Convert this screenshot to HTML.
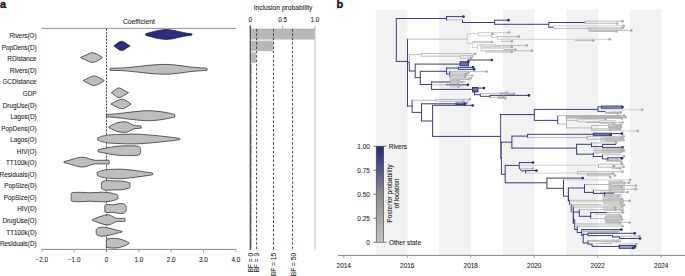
<!DOCTYPE html>
<html><head><meta charset="utf-8"><style>html,body{margin:0;padding:0;background:#fff;width:685px;height:276px;overflow:hidden}svg{display:block}text{stroke:#2a2a2a;stroke-width:0.08px;paint-order:stroke}</style></head>
<body>
<svg width="685" height="276" viewBox="0 0 685 276">
<rect width="685" height="276" fill="#fff"/>
<text x="0" y="7.7" style="font-family:'Liberation Sans',sans-serif;font-weight:bold;font-size:11px;stroke:#111;stroke-width:0.3px" fill="#111">a</text>
<text x="138.9" y="23.8" text-anchor="middle" style="font-family:'Liberation Sans',sans-serif;font-size:6.8px" fill="#222">Coefficient</text>
<line x1="41.8" y1="28.4" x2="236.1" y2="28.4" stroke="#8a8a8a" stroke-width="0.9"/>
<line x1="106.5" y1="28.8" x2="106.5" y2="252.5" stroke="#3a3a3a" stroke-width="0.9" stroke-dasharray="2.1 1.15"/>
<line x1="41.8" y1="249.4" x2="236.1" y2="249.4" stroke="#777" stroke-width="0.9"/>
<line x1="41.84" y1="249.3" x2="41.84" y2="252.3" stroke="#888" stroke-width="0.75"/>
<text x="41.84" y="261.5" text-anchor="middle" style="font-family:'Liberation Sans',sans-serif;font-size:6.35px" fill="#222">−2.0</text>
<line x1="74.17" y1="249.3" x2="74.17" y2="252.3" stroke="#888" stroke-width="0.75"/>
<text x="74.17" y="261.5" text-anchor="middle" style="font-family:'Liberation Sans',sans-serif;font-size:6.35px" fill="#222">−1.0</text>
<line x1="106.50" y1="249.3" x2="106.50" y2="252.3" stroke="#888" stroke-width="0.75"/>
<text x="106.50" y="261.5" text-anchor="middle" style="font-family:'Liberation Sans',sans-serif;font-size:6.35px" fill="#222">0</text>
<line x1="138.83" y1="249.3" x2="138.83" y2="252.3" stroke="#888" stroke-width="0.75"/>
<text x="138.83" y="261.5" text-anchor="middle" style="font-family:'Liberation Sans',sans-serif;font-size:6.35px" fill="#222">1.0</text>
<line x1="171.16" y1="249.3" x2="171.16" y2="252.3" stroke="#888" stroke-width="0.75"/>
<text x="171.16" y="261.5" text-anchor="middle" style="font-family:'Liberation Sans',sans-serif;font-size:6.35px" fill="#222">2.0</text>
<line x1="203.49" y1="249.3" x2="203.49" y2="252.3" stroke="#888" stroke-width="0.75"/>
<text x="203.49" y="261.5" text-anchor="middle" style="font-family:'Liberation Sans',sans-serif;font-size:6.35px" fill="#222">3.0</text>
<line x1="235.82" y1="249.3" x2="235.82" y2="252.3" stroke="#888" stroke-width="0.75"/>
<text x="235.82" y="261.5" text-anchor="middle" style="font-family:'Liberation Sans',sans-serif;font-size:6.35px" fill="#222">4.0</text>
<text x="36.6" y="38.20" text-anchor="end" style="font-family:'Liberation Sans',sans-serif;font-size:6.35px" fill="#222">Rivers(O)</text>
<path d="M145.80,33.60 C146.17,33.52 146.97,33.37 148.00,33.10 C149.03,32.83 150.50,32.40 152.00,32.00 C153.50,31.60 155.33,31.05 157.00,30.70 C158.67,30.35 160.50,30.08 162.00,29.90 C163.50,29.72 164.50,29.60 166.00,29.60 C167.50,29.60 169.33,29.68 171.00,29.90 C172.67,30.12 174.33,30.53 176.00,30.90 C177.67,31.27 179.33,31.73 181.00,32.10 C182.67,32.47 184.50,32.85 186.00,33.10 C187.50,33.35 189.00,33.47 190.00,33.60 C191.00,33.73 191.67,33.85 192.00,33.90 L192.00,35.10 C191.67,35.15 191.00,35.27 190.00,35.40 C189.00,35.53 187.50,35.65 186.00,35.90 C184.50,36.15 182.67,36.53 181.00,36.90 C179.33,37.27 177.67,37.73 176.00,38.10 C174.33,38.47 172.67,38.88 171.00,39.10 C169.33,39.32 167.50,39.40 166.00,39.40 C164.50,39.40 163.50,39.28 162.00,39.10 C160.50,38.92 158.67,38.65 157.00,38.30 C155.33,37.95 153.50,37.40 152.00,37.00 C150.50,36.60 149.03,36.17 148.00,35.90 C146.97,35.63 146.17,35.48 145.80,35.40 Z" fill="#2b2e7c" stroke="#1a1c4a" stroke-width="0.75"/>
<text x="36.6" y="49.75" text-anchor="end" style="font-family:'Liberation Sans',sans-serif;font-size:6.35px" fill="#222">PopDens(D)</text>
<path d="M114.10,45.60 C114.35,45.43 115.03,45.02 115.60,44.60 C116.17,44.18 116.83,43.57 117.50,43.10 C118.17,42.63 118.90,42.11 119.60,41.80 C120.30,41.49 120.97,41.22 121.70,41.25 C122.43,41.28 123.28,41.66 124.00,42.00 C124.72,42.34 125.33,42.85 126.00,43.30 C126.67,43.75 127.37,44.32 128.00,44.70 C128.63,45.08 129.50,45.45 129.80,45.60 L129.80,46.20 C129.50,46.35 128.63,46.72 128.00,47.10 C127.37,47.48 126.67,48.05 126.00,48.50 C125.33,48.95 124.72,49.46 124.00,49.80 C123.28,50.14 122.43,50.52 121.70,50.55 C120.97,50.58 120.30,50.31 119.60,50.00 C118.90,49.69 118.17,49.17 117.50,48.70 C116.83,48.23 116.17,47.62 115.60,47.20 C115.03,46.78 114.35,46.37 114.10,46.20 Z" fill="#2b2e7c" stroke="#1a1c4a" stroke-width="0.75"/>
<text x="36.6" y="61.30" text-anchor="end" style="font-family:'Liberation Sans',sans-serif;font-size:6.35px" fill="#222">RDistance</text>
<path d="M80.80,57.30 C81.17,57.15 82.13,56.78 83.00,56.40 C83.87,56.02 85.00,55.47 86.00,55.00 C87.00,54.53 88.00,53.97 89.00,53.60 C90.00,53.23 91.00,52.85 92.00,52.80 C93.00,52.75 94.00,52.98 95.00,53.30 C96.00,53.62 97.12,54.23 98.00,54.70 C98.88,55.17 99.60,55.67 100.30,56.10 C101.00,56.53 101.88,57.10 102.20,57.30 L102.20,57.90 C101.88,58.10 101.00,58.67 100.30,59.10 C99.60,59.53 98.88,60.03 98.00,60.50 C97.12,60.97 96.00,61.58 95.00,61.90 C94.00,62.22 93.00,62.45 92.00,62.40 C91.00,62.35 90.00,61.97 89.00,61.60 C88.00,61.23 87.00,60.67 86.00,60.20 C85.00,59.73 83.87,59.18 83.00,58.80 C82.13,58.42 81.17,58.05 80.80,57.90 Z" fill="#bebebe" stroke="#2e2e2e" stroke-width="0.75"/>
<text x="36.6" y="72.85" text-anchor="end" style="font-family:'Liberation Sans',sans-serif;font-size:6.35px" fill="#222">Rivers(D)</text>
<path d="M110.10,68.20 C111.42,68.18 115.52,68.17 118.00,68.10 C120.48,68.03 122.17,68.02 125.00,67.80 C127.83,67.58 131.67,67.15 135.00,66.80 C138.33,66.45 141.67,66.03 145.00,65.70 C148.33,65.37 151.83,65.02 155.00,64.80 C158.17,64.58 161.17,64.42 164.00,64.40 C166.83,64.38 169.33,64.50 172.00,64.70 C174.67,64.90 177.33,65.27 180.00,65.60 C182.67,65.93 185.33,66.38 188.00,66.70 C190.67,67.02 193.50,67.28 196.00,67.50 C198.50,67.72 201.17,67.88 203.00,68.00 C204.83,68.12 206.33,68.17 207.00,68.20 L207.00,70.40 C206.33,70.43 204.83,70.48 203.00,70.60 C201.17,70.72 198.50,70.88 196.00,71.10 C193.50,71.32 190.67,71.58 188.00,71.90 C185.33,72.22 182.67,72.67 180.00,73.00 C177.33,73.33 174.67,73.70 172.00,73.90 C169.33,74.10 166.83,74.22 164.00,74.20 C161.17,74.18 158.17,74.02 155.00,73.80 C151.83,73.58 148.33,73.23 145.00,72.90 C141.67,72.57 138.33,72.15 135.00,71.80 C131.67,71.45 127.83,71.02 125.00,70.80 C122.17,70.58 120.48,70.57 118.00,70.50 C115.52,70.43 111.42,70.42 110.10,70.40 Z" fill="#bebebe" stroke="#2e2e2e" stroke-width="0.75"/>
<text x="36.6" y="84.40" text-anchor="end" style="font-family:'Liberation Sans',sans-serif;font-size:6.35px" fill="#222">GCDistance</text>
<path d="M83.40,80.40 C83.75,80.25 84.68,79.90 85.50,79.50 C86.32,79.10 87.35,78.48 88.30,78.00 C89.25,77.52 90.22,76.95 91.20,76.60 C92.18,76.25 93.18,75.88 94.20,75.90 C95.22,75.92 96.33,76.33 97.30,76.70 C98.27,77.07 99.18,77.63 100.00,78.10 C100.82,78.57 101.52,79.12 102.20,79.50 C102.88,79.88 103.78,80.25 104.10,80.40 L104.10,81.00 C103.78,81.15 102.88,81.52 102.20,81.90 C101.52,82.28 100.82,82.83 100.00,83.30 C99.18,83.77 98.27,84.33 97.30,84.70 C96.33,85.07 95.22,85.48 94.20,85.50 C93.18,85.52 92.18,85.15 91.20,84.80 C90.22,84.45 89.25,83.88 88.30,83.40 C87.35,82.92 86.32,82.30 85.50,81.90 C84.68,81.50 83.75,81.15 83.40,81.00 Z" fill="#bebebe" stroke="#2e2e2e" stroke-width="0.75"/>
<text x="36.6" y="95.95" text-anchor="end" style="font-family:'Liberation Sans',sans-serif;font-size:6.35px" fill="#222">GDP</text>
<path d="M111.60,92.50 C111.83,92.35 112.47,91.98 113.00,91.60 C113.53,91.22 114.17,90.67 114.80,90.20 C115.43,89.73 116.12,89.18 116.80,88.80 C117.48,88.42 118.15,87.92 118.90,87.90 C119.65,87.88 120.48,88.33 121.30,88.70 C122.12,89.07 122.98,89.63 123.80,90.10 C124.62,90.57 125.45,91.10 126.20,91.50 C126.95,91.90 127.95,92.33 128.30,92.50 L128.30,93.10 C127.95,93.27 126.95,93.70 126.20,94.10 C125.45,94.50 124.62,95.03 123.80,95.50 C122.98,95.97 122.12,96.53 121.30,96.90 C120.48,97.27 119.65,97.72 118.90,97.70 C118.15,97.68 117.48,97.18 116.80,96.80 C116.12,96.42 115.43,95.87 114.80,95.40 C114.17,94.93 113.53,94.38 113.00,94.00 C112.47,93.62 111.83,93.25 111.60,93.10 Z" fill="#bebebe" stroke="#2e2e2e" stroke-width="0.75"/>
<text x="36.6" y="107.50" text-anchor="end" style="font-family:'Liberation Sans',sans-serif;font-size:6.35px" fill="#222">DrugUse(D)</text>
<path d="M111.10,103.70 C111.47,103.53 112.48,103.10 113.30,102.70 C114.12,102.30 115.05,101.77 116.00,101.30 C116.95,100.83 117.97,100.25 119.00,99.90 C120.03,99.55 121.20,99.17 122.20,99.20 C123.20,99.23 124.15,99.72 125.00,100.10 C125.85,100.48 126.58,101.05 127.30,101.50 C128.02,101.95 128.72,102.43 129.30,102.80 C129.88,103.17 130.55,103.55 130.80,103.70 L130.80,104.30 C130.55,104.45 129.88,104.83 129.30,105.20 C128.72,105.57 128.02,106.05 127.30,106.50 C126.58,106.95 125.85,107.52 125.00,107.90 C124.15,108.28 123.20,108.77 122.20,108.80 C121.20,108.83 120.03,108.45 119.00,108.10 C117.97,107.75 116.95,107.17 116.00,106.70 C115.05,106.23 114.12,105.70 113.30,105.30 C112.48,104.90 111.47,104.47 111.10,104.30 Z" fill="#bebebe" stroke="#2e2e2e" stroke-width="0.75"/>
<text x="36.6" y="119.05" text-anchor="end" style="font-family:'Liberation Sans',sans-serif;font-size:6.35px" fill="#222">Lagos(D)</text>
<path d="M106.30,114.50 C107.25,114.45 109.72,114.38 112.00,114.20 C114.28,114.02 117.00,113.73 120.00,113.40 C123.00,113.07 126.67,112.58 130.00,112.20 C133.33,111.82 137.00,111.35 140.00,111.10 C143.00,110.85 145.33,110.70 148.00,110.70 C150.67,110.70 153.33,110.85 156.00,111.10 C158.67,111.35 161.67,111.83 164.00,112.20 C166.33,112.57 168.22,112.93 170.00,113.30 C171.78,113.67 173.92,114.22 174.70,114.40 L174.70,117.00 C173.92,117.18 171.78,117.73 170.00,118.10 C168.22,118.47 166.33,118.83 164.00,119.20 C161.67,119.57 158.67,120.05 156.00,120.30 C153.33,120.55 150.67,120.70 148.00,120.70 C145.33,120.70 143.00,120.55 140.00,120.30 C137.00,120.05 133.33,119.58 130.00,119.20 C126.67,118.82 123.00,118.33 120.00,118.00 C117.00,117.67 114.28,117.38 112.00,117.20 C109.72,117.02 107.25,116.95 106.30,116.90 Z" fill="#bebebe" stroke="#2e2e2e" stroke-width="0.75"/>
<text x="36.6" y="130.60" text-anchor="end" style="font-family:'Liberation Sans',sans-serif;font-size:6.35px" fill="#222">PopDens(O)</text>
<path d="M108.80,126.70 C109.50,126.35 111.47,125.30 113.00,124.60 C114.53,123.90 116.05,122.97 118.00,122.50 C119.95,122.03 122.87,121.73 124.70,121.80 C126.53,121.87 127.78,122.43 129.00,122.90 C130.22,123.37 131.08,124.17 132.00,124.60 C132.92,125.03 133.50,125.30 134.50,125.50 C135.50,125.70 136.90,125.73 138.00,125.80 C139.10,125.87 140.58,125.88 141.10,125.90 L141.10,128.30 C140.58,128.32 139.10,128.33 138.00,128.40 C136.90,128.47 135.50,128.50 134.50,128.70 C133.50,128.90 132.92,129.17 132.00,129.60 C131.08,130.03 130.22,130.83 129.00,131.30 C127.78,131.77 126.53,132.33 124.70,132.40 C122.87,132.47 119.95,132.17 118.00,131.70 C116.05,131.23 114.53,130.30 113.00,129.60 C111.47,128.90 109.50,127.85 108.80,127.50 Z" fill="#bebebe" stroke="#2e2e2e" stroke-width="0.75"/>
<text x="36.6" y="142.15" text-anchor="end" style="font-family:'Liberation Sans',sans-serif;font-size:6.35px" fill="#222">Lagos(O)</text>
<path d="M97.80,137.70 C98.08,137.62 98.88,137.42 99.50,137.20 C100.12,136.98 100.67,136.65 101.50,136.40 C102.33,136.15 103.08,135.95 104.50,135.70 C105.92,135.45 107.42,135.12 110.00,134.90 C112.58,134.68 116.33,134.53 120.00,134.40 C123.67,134.27 128.33,134.10 132.00,134.10 C135.67,134.10 138.67,134.22 142.00,134.40 C145.33,134.58 148.67,134.90 152.00,135.20 C155.33,135.50 159.00,135.88 162.00,136.20 C165.00,136.52 167.67,136.83 170.00,137.10 C172.33,137.37 174.37,137.60 176.00,137.80 C177.63,138.00 179.17,138.22 179.80,138.30 L179.80,139.70 C179.17,139.78 177.63,140.00 176.00,140.20 C174.37,140.40 172.33,140.63 170.00,140.90 C167.67,141.17 165.00,141.48 162.00,141.80 C159.00,142.12 155.33,142.50 152.00,142.80 C148.67,143.10 145.33,143.42 142.00,143.60 C138.67,143.78 135.67,143.90 132.00,143.90 C128.33,143.90 123.67,143.73 120.00,143.60 C116.33,143.47 112.58,143.32 110.00,143.10 C107.42,142.88 105.92,142.55 104.50,142.30 C103.08,142.05 102.33,141.85 101.50,141.60 C100.67,141.35 100.12,141.02 99.50,140.80 C98.88,140.58 98.08,140.38 97.80,140.30 Z" fill="#bebebe" stroke="#2e2e2e" stroke-width="0.75"/>
<text x="36.6" y="153.70" text-anchor="end" style="font-family:'Liberation Sans',sans-serif;font-size:6.35px" fill="#222">HIV(O)</text>
<path d="M98.20,149.60 C98.50,149.53 99.03,149.38 100.00,149.20 C100.97,149.02 102.67,148.75 104.00,148.50 C105.33,148.25 106.50,147.98 108.00,147.70 C109.50,147.42 111.17,147.07 113.00,146.80 C114.83,146.53 116.83,146.27 119.00,146.10 C121.17,145.93 123.67,145.85 126.00,145.80 C128.33,145.75 131.17,145.75 133.00,145.80 C134.83,145.85 135.92,145.92 137.00,146.10 C138.08,146.28 138.92,146.50 139.50,146.90 C140.08,147.30 140.30,147.87 140.50,148.50 C140.70,149.13 140.67,150.33 140.70,150.70 L140.70,150.70 C140.67,151.07 140.70,152.27 140.50,152.90 C140.30,153.53 140.08,154.10 139.50,154.50 C138.92,154.90 138.08,155.12 137.00,155.30 C135.92,155.48 134.83,155.55 133.00,155.60 C131.17,155.65 128.33,155.65 126.00,155.60 C123.67,155.55 121.17,155.47 119.00,155.30 C116.83,155.13 114.83,154.87 113.00,154.60 C111.17,154.33 109.50,153.98 108.00,153.70 C106.50,153.42 105.33,153.15 104.00,152.90 C102.67,152.65 100.97,152.38 100.00,152.20 C99.03,152.02 98.50,151.87 98.20,151.80 Z" fill="#bebebe" stroke="#2e2e2e" stroke-width="0.75"/>
<text x="36.6" y="165.25" text-anchor="end" style="font-family:'Liberation Sans',sans-serif;font-size:6.35px" fill="#222">TT100k(O)</text>
<path d="M64.10,161.40 C64.75,161.27 66.52,160.98 68.00,160.60 C69.48,160.22 71.33,159.58 73.00,159.10 C74.67,158.62 76.50,158.02 78.00,157.70 C79.50,157.38 80.67,157.20 82.00,157.20 C83.33,157.20 84.67,157.38 86.00,157.70 C87.33,158.02 88.67,158.70 90.00,159.10 C91.33,159.50 92.83,159.90 94.00,160.10 C95.17,160.30 95.33,160.27 97.00,160.30 C98.67,160.33 102.02,160.30 104.00,160.30 C105.98,160.30 108.07,160.00 108.90,160.30 C109.73,160.60 108.98,161.80 109.00,162.10 L109.00,162.10 C108.98,162.40 109.73,163.60 108.90,163.90 C108.07,164.20 105.98,163.90 104.00,163.90 C102.02,163.90 98.67,163.87 97.00,163.90 C95.33,163.93 95.17,163.90 94.00,164.10 C92.83,164.30 91.33,164.70 90.00,165.10 C88.67,165.50 87.33,166.18 86.00,166.50 C84.67,166.82 83.33,167.00 82.00,167.00 C80.67,167.00 79.50,166.82 78.00,166.50 C76.50,166.18 74.67,165.58 73.00,165.10 C71.33,164.62 69.48,163.98 68.00,163.60 C66.52,163.22 64.75,162.93 64.10,162.80 Z" fill="#bebebe" stroke="#2e2e2e" stroke-width="0.75"/>
<text x="36.6" y="176.80" text-anchor="end" style="font-family:'Liberation Sans',sans-serif;font-size:6.35px" fill="#222">Residuals(O)</text>
<path d="M97.20,172.70 C97.42,172.57 97.95,172.18 98.50,171.90 C99.05,171.62 99.75,171.27 100.50,171.00 C101.25,170.73 101.92,170.52 103.00,170.30 C104.08,170.08 105.00,169.88 107.00,169.70 C109.00,169.52 112.50,169.28 115.00,169.20 C117.50,169.12 119.50,169.08 122.00,169.20 C124.50,169.32 127.33,169.62 130.00,169.90 C132.67,170.18 135.50,170.57 138.00,170.90 C140.50,171.23 143.00,171.62 145.00,171.90 C147.00,172.18 148.72,172.40 150.00,172.60 C151.28,172.80 152.25,173.02 152.70,173.10 L152.70,174.70 C152.25,174.78 151.28,175.00 150.00,175.20 C148.72,175.40 147.00,175.62 145.00,175.90 C143.00,176.18 140.50,176.57 138.00,176.90 C135.50,177.23 132.67,177.62 130.00,177.90 C127.33,178.18 124.50,178.48 122.00,178.60 C119.50,178.72 117.50,178.68 115.00,178.60 C112.50,178.52 109.00,178.28 107.00,178.10 C105.00,177.92 104.08,177.72 103.00,177.50 C101.92,177.28 101.25,177.07 100.50,176.80 C99.75,176.53 99.05,176.18 98.50,175.90 C97.95,175.62 97.42,175.23 97.20,175.10 Z" fill="#bebebe" stroke="#2e2e2e" stroke-width="0.75"/>
<text x="36.6" y="188.35" text-anchor="end" style="font-family:'Liberation Sans',sans-serif;font-size:6.35px" fill="#222">PopSize(D)</text>
<path d="M101.60,185.40 C101.60,184.93 101.37,183.27 101.60,182.60 C101.83,181.93 102.27,181.73 103.00,181.40 C103.73,181.07 104.50,180.70 106.00,180.60 C107.50,180.50 110.00,180.75 112.00,180.80 C114.00,180.85 116.17,180.83 118.00,180.90 C119.83,180.97 121.50,181.00 123.00,181.20 C124.50,181.40 125.85,181.78 127.00,182.10 C128.15,182.42 129.42,182.55 129.90,183.10 C130.38,183.65 129.90,185.02 129.90,185.40 L129.90,185.40 C129.90,185.78 130.38,187.15 129.90,187.70 C129.42,188.25 128.15,188.38 127.00,188.70 C125.85,189.02 124.50,189.40 123.00,189.60 C121.50,189.80 119.83,189.83 118.00,189.90 C116.17,189.97 114.00,189.95 112.00,190.00 C110.00,190.05 107.50,190.30 106.00,190.20 C104.50,190.10 103.73,189.73 103.00,189.40 C102.27,189.07 101.83,188.87 101.60,188.20 C101.37,187.53 101.60,185.87 101.60,185.40 Z" fill="#bebebe" stroke="#2e2e2e" stroke-width="0.75"/>
<text x="36.6" y="199.90" text-anchor="end" style="font-family:'Liberation Sans',sans-serif;font-size:6.35px" fill="#222">PopSize(O)</text>
<path d="M71.30,197.00 C71.30,196.42 71.02,194.23 71.30,193.50 C71.58,192.77 71.88,192.80 73.00,192.60 C74.12,192.40 76.17,192.32 78.00,192.30 C79.83,192.28 82.00,192.42 84.00,192.50 C86.00,192.58 88.00,192.80 90.00,192.80 C92.00,192.80 94.00,192.60 96.00,192.50 C98.00,192.40 100.00,192.18 102.00,192.20 C104.00,192.22 106.17,192.38 108.00,192.60 C109.83,192.82 111.40,193.10 113.00,193.50 C114.60,193.90 116.83,194.42 117.60,195.00 C118.37,195.58 117.60,196.67 117.60,197.00 L117.60,197.00 C117.60,197.33 118.37,198.42 117.60,199.00 C116.83,199.58 114.60,200.10 113.00,200.50 C111.40,200.90 109.83,201.18 108.00,201.40 C106.17,201.62 104.00,201.78 102.00,201.80 C100.00,201.82 98.00,201.60 96.00,201.50 C94.00,201.40 92.00,201.20 90.00,201.20 C88.00,201.20 86.00,201.42 84.00,201.50 C82.00,201.58 79.83,201.72 78.00,201.70 C76.17,201.68 74.12,201.60 73.00,201.40 C71.88,201.20 71.58,201.23 71.30,200.50 C71.02,199.77 71.30,197.58 71.30,197.00 Z" fill="#bebebe" stroke="#2e2e2e" stroke-width="0.75"/>
<text x="36.6" y="211.45" text-anchor="end" style="font-family:'Liberation Sans',sans-serif;font-size:6.35px" fill="#222">HIV(D)</text>
<path d="M104.90,208.60 C104.90,208.10 104.72,206.23 104.90,205.60 C105.08,204.97 105.32,204.97 106.00,204.80 C106.68,204.63 107.83,204.58 109.00,204.60 C110.17,204.62 111.67,204.98 113.00,204.90 C114.33,204.82 115.78,204.32 117.00,204.10 C118.22,203.88 119.22,203.62 120.30,203.60 C121.38,203.58 122.58,203.67 123.50,204.00 C124.42,204.33 125.33,204.83 125.80,205.60 C126.27,206.37 126.22,208.10 126.30,208.60 L126.30,208.60 C126.22,209.10 126.27,210.83 125.80,211.60 C125.33,212.37 124.42,212.87 123.50,213.20 C122.58,213.53 121.38,213.62 120.30,213.60 C119.22,213.58 118.22,213.32 117.00,213.10 C115.78,212.88 114.33,212.38 113.00,212.30 C111.67,212.22 110.17,212.58 109.00,212.60 C107.83,212.62 106.68,212.57 106.00,212.40 C105.32,212.23 105.08,212.23 104.90,211.60 C104.72,210.97 104.90,209.10 104.90,208.60 Z" fill="#bebebe" stroke="#2e2e2e" stroke-width="0.75"/>
<text x="36.6" y="223.00" text-anchor="end" style="font-family:'Liberation Sans',sans-serif;font-size:6.35px" fill="#222">DrugUse(O)</text>
<path d="M92.20,219.50 C92.83,219.27 94.70,218.58 96.00,218.10 C97.30,217.62 98.67,217.05 100.00,216.60 C101.33,216.15 102.57,215.68 104.00,215.40 C105.43,215.12 107.27,214.78 108.60,214.90 C109.93,215.02 111.02,215.67 112.00,216.10 C112.98,216.53 113.75,217.15 114.50,217.50 C115.25,217.85 115.83,218.05 116.50,218.20 C117.17,218.35 117.67,218.37 118.50,218.40 C119.33,218.43 120.43,218.40 121.50,218.40 C122.57,218.40 124.33,218.15 124.90,218.40 C125.48,218.65 124.94,219.65 124.95,219.90 L124.95,219.90 C124.94,220.15 125.48,221.15 124.90,221.40 C124.33,221.65 122.57,221.40 121.50,221.40 C120.43,221.40 119.33,221.37 118.50,221.40 C117.67,221.43 117.17,221.45 116.50,221.60 C115.83,221.75 115.25,221.95 114.50,222.30 C113.75,222.65 112.98,223.27 112.00,223.70 C111.02,224.13 109.93,224.78 108.60,224.90 C107.27,225.02 105.43,224.68 104.00,224.40 C102.57,224.12 101.33,223.65 100.00,223.20 C98.67,222.75 97.30,222.18 96.00,221.70 C94.70,221.22 92.83,220.53 92.20,220.30 Z" fill="#bebebe" stroke="#2e2e2e" stroke-width="0.75"/>
<text x="36.6" y="234.55" text-anchor="end" style="font-family:'Liberation Sans',sans-serif;font-size:6.35px" fill="#222">TT100k(D)</text>
<path d="M96.20,231.70 C96.22,231.37 96.08,230.28 96.30,229.70 C96.52,229.12 96.88,228.58 97.50,228.20 C98.12,227.82 99.08,227.57 100.00,227.40 C100.92,227.23 101.83,227.15 103.00,227.20 C104.17,227.25 105.50,227.42 107.00,227.70 C108.50,227.98 110.33,228.48 112.00,228.90 C113.67,229.32 115.32,229.78 117.00,230.20 C118.68,230.62 121.25,231.20 122.10,231.40 L122.10,232.00 C121.25,232.20 118.68,232.78 117.00,233.20 C115.32,233.62 113.67,234.08 112.00,234.50 C110.33,234.92 108.50,235.42 107.00,235.70 C105.50,235.98 104.17,236.15 103.00,236.20 C101.83,236.25 100.92,236.17 100.00,236.00 C99.08,235.83 98.12,235.58 97.50,235.20 C96.88,234.82 96.52,234.28 96.30,233.70 C96.08,233.12 96.22,232.03 96.20,231.70 Z" fill="#bebebe" stroke="#2e2e2e" stroke-width="0.75"/>
<text x="36.6" y="246.10" text-anchor="end" style="font-family:'Liberation Sans',sans-serif;font-size:6.35px" fill="#222">Residuals(D)</text>
<path d="M106.40,243.20 C106.40,242.62 106.13,240.42 106.40,239.70 C106.67,238.98 107.07,239.12 108.00,238.90 C108.93,238.68 110.50,238.47 112.00,238.40 C113.50,238.33 115.50,238.35 117.00,238.50 C118.50,238.65 119.67,238.92 121.00,239.30 C122.33,239.68 123.67,240.22 125.00,240.80 C126.33,241.38 128.33,242.47 129.00,242.80 L129.00,243.60 C128.33,243.93 126.33,245.02 125.00,245.60 C123.67,246.18 122.33,246.72 121.00,247.10 C119.67,247.48 118.50,247.75 117.00,247.90 C115.50,248.05 113.50,248.07 112.00,248.00 C110.50,247.93 108.93,247.72 108.00,247.50 C107.07,247.28 106.67,247.42 106.40,246.70 C106.13,245.98 106.40,243.78 106.40,243.20 Z" fill="#bebebe" stroke="#2e2e2e" stroke-width="0.75"/>
<text x="283" y="9.7" text-anchor="middle" style="font-family:'Liberation Sans',sans-serif;font-size:6.7px" fill="#222">Inclusion probability</text>
<text x="250.30" y="21.8" text-anchor="middle" style="font-family:'Liberation Sans',sans-serif;font-size:6.35px" fill="#222">0</text>
<line x1="250.30" y1="25.8" x2="250.30" y2="29" stroke="#888" stroke-width="0.7"/>
<text x="282.65" y="21.8" text-anchor="middle" style="font-family:'Liberation Sans',sans-serif;font-size:6.35px" fill="#222">0.5</text>
<line x1="282.65" y1="25.8" x2="282.65" y2="29" stroke="#888" stroke-width="0.7"/>
<text x="315.00" y="21.8" text-anchor="middle" style="font-family:'Liberation Sans',sans-serif;font-size:6.35px" fill="#222">1.0</text>
<line x1="315.00" y1="25.8" x2="315.00" y2="29" stroke="#888" stroke-width="0.7"/>
<rect x="250.30" y="29.05" width="64.70" height="10.5" fill="#b8b8b8"/>
<rect x="250.30" y="40.65" width="22.71" height="10.5" fill="#b8b8b8"/>
<rect x="250.30" y="52.25" width="5.63" height="10.5" fill="#b8b8b8"/>
<rect x="250.30" y="63.85" width="1.62" height="10.5" fill="#b8b8b8"/>
<rect x="250.30" y="75.45" width="1.62" height="10.5" fill="#b8b8b8"/>
<rect x="250.30" y="87.05" width="1.62" height="10.5" fill="#b8b8b8"/>
<rect x="250.30" y="98.65" width="1.62" height="10.5" fill="#b8b8b8"/>
<rect x="250.30" y="110.25" width="1.62" height="10.5" fill="#b8b8b8"/>
<rect x="250.30" y="121.85" width="1.62" height="10.5" fill="#b8b8b8"/>
<rect x="250.30" y="133.45" width="1.62" height="10.5" fill="#b8b8b8"/>
<rect x="250.30" y="145.05" width="1.62" height="10.5" fill="#b8b8b8"/>
<rect x="250.30" y="156.65" width="1.62" height="10.5" fill="#b8b8b8"/>
<rect x="250.30" y="168.25" width="1.62" height="10.5" fill="#b8b8b8"/>
<rect x="250.30" y="179.85" width="1.62" height="10.5" fill="#b8b8b8"/>
<rect x="250.30" y="191.45" width="1.62" height="10.5" fill="#b8b8b8"/>
<rect x="250.30" y="203.05" width="1.62" height="10.5" fill="#b8b8b8"/>
<rect x="250.30" y="214.65" width="1.62" height="10.5" fill="#b8b8b8"/>
<rect x="250.30" y="226.25" width="1.62" height="10.5" fill="#b8b8b8"/>
<rect x="250.30" y="237.85" width="1.62" height="10.5" fill="#b8b8b8"/>
<line x1="250.3" y1="29" x2="315.0" y2="29" stroke="#aaa" stroke-width="0.7"/>
<line x1="315.0" y1="28.8" x2="315.0" y2="249.5" stroke="#c4c4c4" stroke-width="1"/>
<line x1="250.3" y1="25.4" x2="250.3" y2="250" stroke="#555" stroke-width="1.35"/>
<line x1="256.6" y1="29" x2="256.6" y2="249.5" stroke="#222" stroke-width="0.8" stroke-dasharray="2.6 1.75"/>
<line x1="273.5" y1="29" x2="273.5" y2="249.5" stroke="#222" stroke-width="0.8" stroke-dasharray="2.6 1.75"/>
<line x1="292.6" y1="29" x2="292.6" y2="249.5" stroke="#222" stroke-width="0.8" stroke-dasharray="2.6 1.75"/>
<text transform="translate(252.80,252.7) rotate(-90)" text-anchor="end" style="font-family:'Liberation Sans',sans-serif;font-size:6.7px" fill="#222">BF = 0</text>
<text transform="translate(259.10,252.7) rotate(-90)" text-anchor="end" style="font-family:'Liberation Sans',sans-serif;font-size:6.7px" fill="#222">BF = 3</text>
<text transform="translate(276.10,252.7) rotate(-90)" text-anchor="end" style="font-family:'Liberation Sans',sans-serif;font-size:6.7px" fill="#222">BF = 15</text>
<text transform="translate(295.60,252.7) rotate(-90)" text-anchor="end" style="font-family:'Liberation Sans',sans-serif;font-size:6.7px" fill="#222">BF = 50</text>
<rect x="375.80" y="9.4" width="31.65" height="246.0" fill="#f2f2f2"/>
<rect x="439.30" y="9.4" width="31.65" height="246.0" fill="#f2f2f2"/>
<rect x="502.80" y="9.4" width="31.65" height="246.0" fill="#f2f2f2"/>
<rect x="566.30" y="9.4" width="31.65" height="246.0" fill="#f2f2f2"/>
<rect x="629.80" y="9.4" width="31.65" height="246.0" fill="#f2f2f2"/>
<line x1="338.1" y1="255.4" x2="685" y2="255.4" stroke="#777" stroke-width="0.9"/>
<line x1="343.70" y1="255.4" x2="343.70" y2="257.8" stroke="#777" stroke-width="0.7"/>
<text x="343.70" y="267.5" text-anchor="middle" style="font-family:'Liberation Sans',sans-serif;font-size:6.4px" fill="#222">2014</text>
<line x1="407.20" y1="255.4" x2="407.20" y2="257.8" stroke="#777" stroke-width="0.7"/>
<text x="407.20" y="267.5" text-anchor="middle" style="font-family:'Liberation Sans',sans-serif;font-size:6.4px" fill="#222">2016</text>
<line x1="470.70" y1="255.4" x2="470.70" y2="257.8" stroke="#777" stroke-width="0.7"/>
<text x="470.70" y="267.5" text-anchor="middle" style="font-family:'Liberation Sans',sans-serif;font-size:6.4px" fill="#222">2018</text>
<line x1="534.20" y1="255.4" x2="534.20" y2="257.8" stroke="#777" stroke-width="0.7"/>
<text x="534.20" y="267.5" text-anchor="middle" style="font-family:'Liberation Sans',sans-serif;font-size:6.4px" fill="#222">2020</text>
<line x1="597.70" y1="255.4" x2="597.70" y2="257.8" stroke="#777" stroke-width="0.7"/>
<text x="597.70" y="267.5" text-anchor="middle" style="font-family:'Liberation Sans',sans-serif;font-size:6.4px" fill="#222">2022</text>
<line x1="661.20" y1="255.4" x2="661.20" y2="257.8" stroke="#777" stroke-width="0.7"/>
<text x="661.20" y="267.5" text-anchor="middle" style="font-family:'Liberation Sans',sans-serif;font-size:6.4px" fill="#222">2024</text>
<text x="336.4" y="8.1" style="font-family:'Liberation Sans',sans-serif;font-weight:bold;font-size:11px;stroke:#111;stroke-width:0.3px" fill="#111">b</text>
<defs><linearGradient id="lg" x1="0" y1="0" x2="0" y2="1"><stop offset="0" stop-color="#262a78"/><stop offset="0.25" stop-color="#55578a"/><stop offset="0.5" stop-color="#8c8c8c"/><stop offset="1" stop-color="#c4c4c4"/></linearGradient></defs>
<rect x="376.2" y="146.2" width="7.5" height="96" fill="url(#lg)" stroke="#444" stroke-width="0.6"/>
<line x1="373.4" y1="146.2" x2="376.2" y2="146.2" stroke="#444" stroke-width="0.7"/>
<text x="369.8" y="148.60" text-anchor="end" style="font-family:'Liberation Sans',sans-serif;font-size:6.4px" fill="#222">1.00</text>
<line x1="373.4" y1="170.2" x2="376.2" y2="170.2" stroke="#444" stroke-width="0.7"/>
<text x="369.8" y="172.60" text-anchor="end" style="font-family:'Liberation Sans',sans-serif;font-size:6.4px" fill="#222">0.75</text>
<line x1="373.4" y1="194.2" x2="376.2" y2="194.2" stroke="#444" stroke-width="0.7"/>
<text x="369.8" y="196.60" text-anchor="end" style="font-family:'Liberation Sans',sans-serif;font-size:6.4px" fill="#222">0.50</text>
<line x1="373.4" y1="218.2" x2="376.2" y2="218.2" stroke="#444" stroke-width="0.7"/>
<text x="369.8" y="220.60" text-anchor="end" style="font-family:'Liberation Sans',sans-serif;font-size:6.4px" fill="#222">0.25</text>
<line x1="373.4" y1="242.2" x2="376.2" y2="242.2" stroke="#444" stroke-width="0.7"/>
<text x="369.8" y="244.60" text-anchor="end" style="font-family:'Liberation Sans',sans-serif;font-size:6.4px" fill="#222">0</text>
<line x1="383.7" y1="146.2" x2="386.7" y2="146.2" stroke="#444" stroke-width="0.7"/>
<line x1="383.7" y1="242.2" x2="386.7" y2="242.2" stroke="#444" stroke-width="0.7"/>
<text x="388.7" y="148.6" style="font-family:'Liberation Sans',sans-serif;font-size:6.5px" fill="#222">Rivers</text>
<text x="388.9" y="244.6" style="font-family:'Liberation Sans',sans-serif;font-size:6.5px" fill="#222">Other state</text>
<text transform="translate(391.6,193.5) rotate(-90)" text-anchor="middle" style="font-family:'Liberation Sans',sans-serif;font-size:6.6px" fill="#222">Posterior probability</text>
<text transform="translate(399.2,193.5) rotate(-90)" text-anchor="middle" style="font-family:'Liberation Sans',sans-serif;font-size:6.6px" fill="#222">of location</text>
<rect x="600.0" y="239.5" width="21.0" height="3.0" fill="#d8d8d8"/>
<rect x="583.0" y="230.2" width="37.0" height="2.200000000000017" fill="#d8d8d8"/>
<rect x="605.0" y="214.5" width="17.0" height="10.5" fill="#d8d8d8"/>
<rect x="603.0" y="199.0" width="21.0" height="12.0" fill="#d8d8d8"/>
<rect x="602.0" y="194.0" width="20.0" height="5.0" fill="#d8d8d8"/>
<rect x="608.0" y="180.5" width="17.0" height="12.5" fill="#d8d8d8"/>
<rect x="606.0" y="158.5" width="16.0" height="3.5" fill="#d8d8d8"/>
<rect x="602.0" y="148.0" width="22.0" height="4.5" fill="#d8d8d8"/>
<rect x="600.0" y="137.0" width="22.0" height="5.0" fill="#d8d8d8"/>
<rect x="608.5" y="124.5" width="11.5" height="6.0" fill="#d8d8d8"/>
<rect x="566.0" y="115.0" width="56.0" height="3.5999999999999943" fill="#d8d8d8"/>
<rect x="608.0" y="111.5" width="12.0" height="2.5" fill="#d8d8d8"/>
<line x1="396.3" y1="18.05" x2="396.3" y2="61.85" stroke="#2f3382" stroke-width="0.95"/>
<line x1="396.3" y1="18.5" x2="446.6" y2="18.5" stroke="#2f3382" stroke-width="0.95"/>
<line x1="446.6" y1="16.150000000000002" x2="446.6" y2="20.65" stroke="#2f3382" stroke-width="0.95"/>
<line x1="446.6" y1="16.6" x2="463.5" y2="16.6" stroke="#2f3382" stroke-width="0.95"/>
<circle cx="463.5" cy="16.6" r="1.35" fill="#262a78"/>
<line x1="446.6" y1="19.9" x2="462.5" y2="19.9" stroke="#adadad" stroke-width="0.75"/>
<line x1="462.5" y1="19.75" x2="462.5" y2="22.95" stroke="#2f3382" stroke-width="0.95"/>
<line x1="462.5" y1="22.5" x2="494.7" y2="22.5" stroke="#2f3382" stroke-width="0.95"/>
<line x1="494.7" y1="19.75" x2="494.7" y2="24.75" stroke="#2f3382" stroke-width="0.95"/>
<line x1="494.7" y1="20.2" x2="508.5" y2="20.2" stroke="#2f3382" stroke-width="0.95"/>
<circle cx="508.5" cy="20.2" r="1.35" fill="#262a78"/>
<line x1="494.7" y1="24.3" x2="548.8" y2="24.3" stroke="#2f3382" stroke-width="0.95"/>
<line x1="548.8" y1="22.05" x2="548.8" y2="27.65" stroke="#2f3382" stroke-width="0.95"/>
<line x1="548.8" y1="22.5" x2="585.0" y2="22.5" stroke="#2f3382" stroke-width="0.95"/>
<line x1="585.0" y1="20.75" x2="585.0" y2="23.75" stroke="#adadad" stroke-width="0.85"/>
<line x1="585.0" y1="21.2" x2="622.5" y2="21.2" stroke="#adadad" stroke-width="0.85"/>
<circle cx="622.5" cy="21.2" r="1.35" fill="#acacac"/>
<line x1="585.0" y1="23.3" x2="617.0" y2="23.3" stroke="#adadad" stroke-width="0.85"/>
<circle cx="617.0" cy="23.5" r="1.35" fill="#acacac"/>
<line x1="548.8" y1="27.2" x2="553.6" y2="27.2" stroke="#2f3382" stroke-width="0.95"/>
<line x1="553.6" y1="25.35" x2="553.6" y2="28.849999999999998" stroke="#adadad" stroke-width="0.85"/>
<line x1="553.6" y1="25.8" x2="623.7" y2="25.8" stroke="#c6c6c6" stroke-width="0.85"/>
<circle cx="623.7" cy="25.8" r="1.35" fill="#acacac"/>
<line x1="553.6" y1="28.4" x2="589.0" y2="28.4" stroke="#adadad" stroke-width="0.85"/>
<line x1="589.0" y1="27.45" x2="589.0" y2="31.95" stroke="#adadad" stroke-width="0.85"/>
<line x1="589.0" y1="27.9" x2="622.7" y2="27.9" stroke="#adadad" stroke-width="0.85"/>
<circle cx="622.7" cy="27.9" r="1.35" fill="#acacac"/>
<line x1="589.0" y1="29.0" x2="622.0" y2="29.0" stroke="#adadad" stroke-width="0.85"/>
<line x1="589.0" y1="30.4" x2="631.4" y2="30.4" stroke="#adadad" stroke-width="0.85"/>
<circle cx="631.4" cy="30.4" r="1.35" fill="#acacac"/>
<line x1="590.5" y1="31.5" x2="616.4" y2="31.5" stroke="#adadad" stroke-width="0.85"/>
<circle cx="616.4" cy="31.5" r="1.35" fill="#acacac"/>
<line x1="396.3" y1="61.4" x2="407.5" y2="61.4" stroke="#2f3382" stroke-width="0.95"/>
<line x1="407.5" y1="38.65" x2="407.5" y2="106.75" stroke="#2f3382" stroke-width="0.95"/>
<line x1="407.5" y1="39.1" x2="467.2" y2="39.1" stroke="#adadad" stroke-width="0.8"/>
<line x1="467.2" y1="33.25" x2="467.2" y2="43.85" stroke="#c6c6c6" stroke-width="0.85"/>
<line x1="467.2" y1="33.7" x2="478.4" y2="33.7" stroke="#c6c6c6" stroke-width="0.85"/>
<line x1="478.4" y1="32.15" x2="478.4" y2="36.150000000000006" stroke="#c6c6c6" stroke-width="0.85"/>
<line x1="478.4" y1="32.6" x2="508.8" y2="32.6" stroke="#c6c6c6" stroke-width="0.85"/>
<circle cx="508.8" cy="32.6" r="1.35" fill="#acacac"/>
<line x1="478.4" y1="35.7" x2="491.7" y2="35.7" stroke="#c6c6c6" stroke-width="0.85"/>
<line x1="491.7" y1="33.25" x2="491.7" y2="37.85" stroke="#adadad" stroke-width="0.85"/>
<circle cx="492.5" cy="33.9" r="1.35" fill="#acacac"/>
<line x1="491.7" y1="37.4" x2="497.3" y2="37.4" stroke="#c6c6c6" stroke-width="0.85"/>
<line x1="497.3" y1="36.25" x2="497.3" y2="39.75" stroke="#c6c6c6" stroke-width="0.85"/>
<line x1="497.3" y1="36.7" x2="518.8" y2="36.7" stroke="#adadad" stroke-width="0.85"/>
<circle cx="518.8" cy="36.7" r="1.35" fill="#acacac"/>
<line x1="497.3" y1="39.3" x2="609.7" y2="39.3" stroke="#c6c6c6" stroke-width="0.85"/>
<circle cx="609.7" cy="39.3" r="1.35" fill="#acacac"/>
<line x1="575.0" y1="40.3" x2="593.3" y2="40.3" stroke="#adadad" stroke-width="0.85"/>
<circle cx="593.3" cy="40.6" r="1.35" fill="#acacac"/>
<line x1="501.4" y1="38.849999999999994" x2="501.4" y2="41.75" stroke="#c6c6c6" stroke-width="0.85"/>
<line x1="501.4" y1="41.3" x2="511.9" y2="41.3" stroke="#adadad" stroke-width="0.85"/>
<circle cx="511.9" cy="41.3" r="1.35" fill="#acacac"/>
<line x1="467.2" y1="43.4" x2="472.3" y2="43.4" stroke="#c6c6c6" stroke-width="0.85"/>
<line x1="472.3" y1="41.349999999999994" x2="472.3" y2="47.95" stroke="#c6c6c6" stroke-width="0.85"/>
<line x1="472.3" y1="41.8" x2="491.7" y2="41.8" stroke="#adadad" stroke-width="0.85"/>
<line x1="472.3" y1="42.4" x2="495.3" y2="42.4" stroke="#c6c6c6" stroke-width="0.85"/>
<circle cx="491.7" cy="42.0" r="1.35" fill="#acacac"/>
<line x1="472.3" y1="47.5" x2="477.4" y2="47.5" stroke="#c6c6c6" stroke-width="0.85"/>
<line x1="477.4" y1="44.449999999999996" x2="477.4" y2="49.95" stroke="#c6c6c6" stroke-width="0.85"/>
<line x1="477.4" y1="44.9" x2="481.0" y2="44.9" stroke="#c6c6c6" stroke-width="0.85"/>
<line x1="481.0" y1="43.949999999999996" x2="481.0" y2="46.35" stroke="#c6c6c6" stroke-width="0.85"/>
<line x1="481.0" y1="44.4" x2="495.3" y2="44.4" stroke="#c6c6c6" stroke-width="0.85"/>
<line x1="495.3" y1="43.949999999999996" x2="495.3" y2="46.45" stroke="#c6c6c6" stroke-width="0.85"/>
<line x1="495.3" y1="45.4" x2="526.8" y2="45.4" stroke="#adadad" stroke-width="0.85"/>
<line x1="481.0" y1="45.9" x2="500.0" y2="45.9" stroke="#c6c6c6" stroke-width="0.85"/>
<circle cx="526.8" cy="45.4" r="1.35" fill="#acacac"/>
<line x1="481.0" y1="43.949999999999996" x2="481.0" y2="51.25" stroke="#c6c6c6" stroke-width="0.85"/>
<line x1="481.0" y1="47.0" x2="511.8" y2="47.0" stroke="#adadad" stroke-width="0.85"/>
<circle cx="511.8" cy="47.0" r="1.35" fill="#acacac"/>
<line x1="481.0" y1="48.2" x2="504.0" y2="48.2" stroke="#c6c6c6" stroke-width="0.85"/>
<line x1="504.0" y1="47.75" x2="504.0" y2="49.95" stroke="#c6c6c6" stroke-width="0.85"/>
<line x1="504.0" y1="49.5" x2="515.3" y2="49.5" stroke="#adadad" stroke-width="0.85"/>
<circle cx="515.3" cy="49.5" r="1.35" fill="#acacac"/>
<line x1="481.0" y1="50.8" x2="531.9" y2="50.8" stroke="#adadad" stroke-width="0.85"/>
<circle cx="531.9" cy="50.8" r="1.35" fill="#acacac"/>
<line x1="485.0" y1="50.349999999999994" x2="485.0" y2="52.45" stroke="#c6c6c6" stroke-width="0.85"/>
<line x1="485.0" y1="52.0" x2="511.8" y2="52.0" stroke="#adadad" stroke-width="0.85"/>
<circle cx="511.8" cy="52.0" r="1.35" fill="#acacac"/>
<line x1="407.5" y1="62.3" x2="409.3" y2="62.3" stroke="#2f3382" stroke-width="0.95"/>
<line x1="409.3" y1="54.15" x2="409.3" y2="62.95" stroke="#adadad" stroke-width="0.85"/>
<line x1="409.3" y1="62.05" x2="409.3" y2="71.45" stroke="#2f3382" stroke-width="0.95"/>
<line x1="409.3" y1="54.6" x2="421.4" y2="54.6" stroke="#adadad" stroke-width="0.85"/>
<line x1="421.4" y1="53.15" x2="421.4" y2="56.650000000000006" stroke="#adadad" stroke-width="0.85"/>
<line x1="421.4" y1="53.6" x2="474.0" y2="53.6" stroke="#adadad" stroke-width="0.85"/>
<circle cx="475.0" cy="53.8" r="1.35" fill="#acacac"/>
<line x1="421.4" y1="56.2" x2="460.2" y2="56.2" stroke="#adadad" stroke-width="0.85"/>
<line x1="460.2" y1="55.25" x2="460.2" y2="58.650000000000006" stroke="#adadad" stroke-width="0.85"/>
<line x1="460.2" y1="55.7" x2="472.4" y2="55.7" stroke="#adadad" stroke-width="0.85"/>
<line x1="460.2" y1="58.2" x2="472.0" y2="58.2" stroke="#adadad" stroke-width="0.85"/>
<circle cx="472.4" cy="56.1" r="1.35" fill="#acacac"/>
<circle cx="471.0" cy="58.2" r="1.35" fill="#acacac"/>
<line x1="409.3" y1="71.0" x2="415.2" y2="71.0" stroke="#2f3382" stroke-width="0.95"/>
<line x1="415.2" y1="63.64999999999999" x2="415.2" y2="78.05" stroke="#2f3382" stroke-width="0.95"/>
<line x1="415.2" y1="64.1" x2="460.7" y2="64.1" stroke="#2f3382" stroke-width="0.95"/>
<rect x="460.0" y="61.7" width="8.5" height="4.099999999999994" fill="#5c5f9c" fill-opacity="0.9" stroke="#2f3382" stroke-width="0.9"/>
<line x1="468.0" y1="59.55" x2="468.0" y2="62.45" stroke="#2f3382" stroke-width="0.95"/>
<line x1="468.0" y1="60.0" x2="491.8" y2="60.0" stroke="#2f3382" stroke-width="0.95"/>
<circle cx="491.8" cy="60.0" r="1.35" fill="#262a78"/>
<circle cx="468.3" cy="61.8" r="1.35" fill="#262a78"/>
<line x1="415.2" y1="77.6" x2="420.3" y2="77.6" stroke="#2f3382" stroke-width="0.95"/>
<line x1="420.3" y1="70.85" x2="420.3" y2="84.95" stroke="#2f3382" stroke-width="0.95"/>
<line x1="420.3" y1="71.3" x2="446.6" y2="71.3" stroke="#2f3382" stroke-width="0.95"/>
<line x1="446.6" y1="67.55" x2="446.6" y2="74.45" stroke="#2f3382" stroke-width="0.95"/>
<line x1="446.6" y1="68.0" x2="458.4" y2="68.0" stroke="#2f3382" stroke-width="0.95"/>
<line x1="458.4" y1="66.95" x2="458.4" y2="69.85000000000001" stroke="#2f3382" stroke-width="0.95"/>
<line x1="458.4" y1="67.4" x2="473.0" y2="67.4" stroke="#2f3382" stroke-width="0.95"/>
<line x1="458.4" y1="69.4" x2="474.2" y2="69.4" stroke="#2f3382" stroke-width="0.95"/>
<circle cx="473.0" cy="67.2" r="1.35" fill="#262a78"/>
<circle cx="474.2" cy="69.4" r="1.35" fill="#262a78"/>
<line x1="446.6" y1="74.0" x2="449.7" y2="74.0" stroke="#2f3382" stroke-width="0.95"/>
<line x1="449.7" y1="71.14999999999999" x2="449.7" y2="77.15" stroke="#2f3382" stroke-width="0.95"/>
<line x1="449.7" y1="71.6" x2="486.5" y2="71.6" stroke="#adadad" stroke-width="0.85"/>
<circle cx="486.5" cy="71.6" r="1.35" fill="#acacac"/>
<line x1="450.0" y1="73.0" x2="450.0" y2="79.5" stroke="#adadad" stroke-width="0.8"/>
<line x1="450.0" y1="73.00" x2="468.21" y2="73.00" stroke="#adadad" stroke-width="0.8"/>
<circle cx="468.21" cy="73.00" r="1.2" fill="#acacac"/>
<line x1="450.0" y1="74.30" x2="465.96" y2="74.30" stroke="#adadad" stroke-width="0.8"/>
<circle cx="465.96" cy="74.30" r="1.2" fill="#acacac"/>
<line x1="450.0" y1="75.60" x2="472.46" y2="75.60" stroke="#adadad" stroke-width="0.8"/>
<circle cx="472.46" cy="75.60" r="1.2" fill="#acacac"/>
<line x1="450.0" y1="76.90" x2="464.94" y2="76.90" stroke="#adadad" stroke-width="0.8"/>
<circle cx="464.94" cy="76.90" r="1.2" fill="#acacac"/>
<line x1="450.0" y1="78.20" x2="470.97" y2="78.20" stroke="#adadad" stroke-width="0.8"/>
<circle cx="470.97" cy="78.20" r="1.2" fill="#acacac"/>
<line x1="450.0" y1="79.50" x2="468.75" y2="79.50" stroke="#adadad" stroke-width="0.8"/>
<circle cx="468.75" cy="79.50" r="1.2" fill="#acacac"/>
<line x1="420.3" y1="84.5" x2="431.6" y2="84.5" stroke="#2f3382" stroke-width="0.95"/>
<line x1="431.6" y1="81.55" x2="431.6" y2="89.85000000000001" stroke="#2f3382" stroke-width="0.95"/>
<line x1="431.6" y1="82.0" x2="451.2" y2="82.0" stroke="#2f3382" stroke-width="0.95"/>
<line x1="451.2" y1="82.0" x2="465.3" y2="82.0" stroke="#adadad" stroke-width="0.85"/>
<line x1="432.0" y1="84.8" x2="445.9" y2="84.8" stroke="#adadad" stroke-width="0.85"/>
<line x1="445.9" y1="84.8" x2="467.8" y2="84.8" stroke="#2f3382" stroke-width="0.95"/>
<circle cx="467.8" cy="84.8" r="1.35" fill="#262a78"/>
<line x1="450.0" y1="80.5" x2="450.0" y2="87.0" stroke="#adadad" stroke-width="0.8"/>
<line x1="450.0" y1="80.50" x2="458.46" y2="80.50" stroke="#adadad" stroke-width="0.8"/>
<circle cx="458.46" cy="80.50" r="1.2" fill="#acacac"/>
<line x1="450.0" y1="82.12" x2="462.06" y2="82.12" stroke="#adadad" stroke-width="0.8"/>
<circle cx="462.06" cy="82.12" r="1.2" fill="#acacac"/>
<line x1="450.0" y1="83.75" x2="458.30" y2="83.75" stroke="#adadad" stroke-width="0.8"/>
<circle cx="458.30" cy="83.75" r="1.2" fill="#acacac"/>
<line x1="450.0" y1="85.38" x2="461.47" y2="85.38" stroke="#adadad" stroke-width="0.8"/>
<circle cx="461.47" cy="85.38" r="1.2" fill="#acacac"/>
<line x1="450.0" y1="87.00" x2="458.56" y2="87.00" stroke="#adadad" stroke-width="0.8"/>
<circle cx="458.56" cy="87.00" r="1.2" fill="#acacac"/>
<line x1="431.6" y1="89.4" x2="472.7" y2="89.4" stroke="#2f3382" stroke-width="0.95"/>
<line x1="472.7" y1="87.05" x2="472.7" y2="91.45" stroke="#2f3382" stroke-width="0.95"/>
<line x1="472.7" y1="88.1" x2="483.9" y2="88.1" stroke="#2f3382" stroke-width="0.95"/>
<circle cx="483.9" cy="88.1" r="1.35" fill="#262a78"/>
<rect x="472.5" y="87.5" width="5.5" height="4.5" fill="#5c5f9c" fill-opacity="0.9" stroke="#2f3382" stroke-width="0.9"/>
<line x1="474.5" y1="90.55" x2="474.5" y2="95.15" stroke="#2f3382" stroke-width="0.95"/>
<line x1="474.5" y1="94.7" x2="480.3" y2="94.7" stroke="#2f3382" stroke-width="0.95"/>
<line x1="480.3" y1="93.25" x2="480.3" y2="96.75" stroke="#2f3382" stroke-width="0.95"/>
<line x1="480.3" y1="93.7" x2="514.0" y2="93.7" stroke="#adadad" stroke-width="0.85"/>
<circle cx="514.0" cy="93.7" r="1.35" fill="#acacac"/>
<line x1="500.0" y1="92.5" x2="500.0" y2="95.0" stroke="#adadad" stroke-width="0.8"/>
<line x1="500.0" y1="92.50" x2="506.73" y2="92.50" stroke="#adadad" stroke-width="0.8"/>
<circle cx="506.73" cy="92.50" r="1.2" fill="#acacac"/>
<line x1="500.0" y1="93.75" x2="509.40" y2="93.75" stroke="#adadad" stroke-width="0.8"/>
<circle cx="509.40" cy="93.75" r="1.2" fill="#acacac"/>
<line x1="500.0" y1="95.00" x2="512.61" y2="95.00" stroke="#adadad" stroke-width="0.8"/>
<circle cx="512.61" cy="95.00" r="1.2" fill="#acacac"/>
<line x1="480.3" y1="96.3" x2="490.0" y2="96.3" stroke="#2f3382" stroke-width="0.95"/>
<line x1="490.0" y1="94.95" x2="490.0" y2="97.75" stroke="#2f3382" stroke-width="0.95"/>
<line x1="490.0" y1="95.4" x2="528.9" y2="95.4" stroke="#2f3382" stroke-width="0.95"/>
<circle cx="528.9" cy="95.4" r="1.35" fill="#262a78"/>
<line x1="490.0" y1="97.3" x2="506.9" y2="97.3" stroke="#adadad" stroke-width="0.85"/>
<line x1="498.0" y1="96.8" x2="498.0" y2="98.5" stroke="#adadad" stroke-width="0.8"/>
<line x1="498.0" y1="96.80" x2="503.50" y2="96.80" stroke="#adadad" stroke-width="0.8"/>
<circle cx="503.50" cy="96.80" r="1.2" fill="#acacac"/>
<line x1="498.0" y1="97.65" x2="503.89" y2="97.65" stroke="#adadad" stroke-width="0.8"/>
<circle cx="503.89" cy="97.65" r="1.2" fill="#acacac"/>
<line x1="498.0" y1="98.50" x2="505.51" y2="98.50" stroke="#adadad" stroke-width="0.8"/>
<circle cx="505.51" cy="98.50" r="1.2" fill="#acacac"/>
<line x1="407.4" y1="106.1" x2="412.1" y2="106.1" stroke="#2f3382" stroke-width="0.95"/>
<line x1="412.1" y1="99.75" x2="412.1" y2="112.85000000000001" stroke="#2f3382" stroke-width="0.95"/>
<line x1="412.1" y1="100.2" x2="435.3" y2="100.2" stroke="#adadad" stroke-width="0.85"/>
<line x1="435.3" y1="98.95" x2="435.3" y2="101.65" stroke="#adadad" stroke-width="0.85"/>
<line x1="435.3" y1="99.4" x2="469.6" y2="99.4" stroke="#adadad" stroke-width="0.85"/>
<circle cx="469.6" cy="99.4" r="1.35" fill="#acacac"/>
<line x1="435.3" y1="101.2" x2="463.0" y2="101.2" stroke="#adadad" stroke-width="0.85"/>
<circle cx="463.4" cy="101.2" r="1.35" fill="#acacac"/>
<circle cx="467.0" cy="102.7" r="1.35" fill="#acacac"/>
<line x1="412.1" y1="112.4" x2="421.5" y2="112.4" stroke="#2f3382" stroke-width="0.95"/>
<line x1="421.5" y1="103.35" x2="421.5" y2="121.45" stroke="#2f3382" stroke-width="0.95"/>
<line x1="421.5" y1="103.8" x2="456.2" y2="103.8" stroke="#2f3382" stroke-width="0.95"/>
<rect x="456.0" y="103.0" width="9.0" height="1.5999999999999943" fill="#5c5f9c" fill-opacity="0.6" stroke="#2f3382" stroke-width="0.9"/>
<circle cx="465.0" cy="103.8" r="1.35" fill="#262a78"/>
<line x1="421.5" y1="121.0" x2="432.6" y2="121.0" stroke="#2f3382" stroke-width="0.95"/>
<line x1="432.6" y1="104.85" x2="432.6" y2="136.85" stroke="#2f3382" stroke-width="0.95"/>
<line x1="432.6" y1="105.3" x2="472.7" y2="105.3" stroke="#2f3382" stroke-width="0.95"/>
<circle cx="472.7" cy="105.5" r="1.35" fill="#262a78"/>
<line x1="432.6" y1="136.4" x2="500.4" y2="136.4" stroke="#2f3382" stroke-width="0.95"/>
<line x1="500.7" y1="113.64999999999999" x2="500.7" y2="142.64999999999998" stroke="#2f3382" stroke-width="0.95"/>
<line x1="501.0" y1="141.75" x2="501.0" y2="158.85" stroke="#2f3382" stroke-width="1.4"/>
<line x1="501.4" y1="157.55" x2="501.4" y2="174.75" stroke="#2f3382" stroke-width="0.95"/>
<line x1="500.4" y1="114.6" x2="534.3" y2="114.6" stroke="#2f3382" stroke-width="0.95"/>
<line x1="534.3" y1="108.95" x2="534.3" y2="120.85000000000001" stroke="#2f3382" stroke-width="0.95"/>
<line x1="534.3" y1="109.4" x2="598.0" y2="109.4" stroke="#2f3382" stroke-width="0.95"/>
<line x1="598.0" y1="106.45" x2="598.0" y2="112.05" stroke="#2f3382" stroke-width="0.95"/>
<line x1="598.0" y1="106.9" x2="601.5" y2="106.9" stroke="#2f3382" stroke-width="0.95"/>
<rect x="601.5" y="106.0" width="21.0" height="2.200000000000003" fill="#5c5f9c" fill-opacity="0.6" stroke="#2f3382" stroke-width="0.9"/>
<circle cx="622.5" cy="107.0" r="1.35" fill="#262a78"/>
<line x1="600.0" y1="109.8" x2="642.0" y2="109.8" stroke="#c6c6c6" stroke-width="0.85"/>
<circle cx="642.0" cy="109.8" r="1.35" fill="#acacac"/>
<line x1="598.0" y1="111.6" x2="605.5" y2="111.6" stroke="#2f3382" stroke-width="0.95"/>
<line x1="605.5" y1="110.75" x2="605.5" y2="113.95" stroke="#adadad" stroke-width="0.85"/>
<line x1="605.5" y1="112.4" x2="620.7" y2="112.4" stroke="#adadad" stroke-width="0.85"/>
<line x1="605.5" y1="113.3" x2="618.0" y2="113.3" stroke="#adadad" stroke-width="0.85"/>
<circle cx="620.7" cy="112.4" r="1.35" fill="#acacac"/>
<circle cx="618.0" cy="113.5" r="1.35" fill="#acacac"/>
<line x1="611.46" y1="112.30" x2="615.26" y2="112.30" stroke="#bdbdbd" stroke-width="0.6"/>
<circle cx="615.26" cy="112.30" r="1.05" fill="#b3b3b3"/>
<line x1="534.3" y1="120.4" x2="557.8" y2="120.4" stroke="#2f3382" stroke-width="0.95"/>
<line x1="557.8" y1="115.85" x2="557.8" y2="124.55" stroke="#2f3382" stroke-width="0.95"/>
<line x1="566.28" y1="115.80" x2="617.12" y2="115.80" stroke="#bdbdbd" stroke-width="0.6"/>
<circle cx="617.12" cy="115.80" r="1.05" fill="#b3b3b3"/>
<line x1="566.87" y1="118.26" x2="620.55" y2="118.26" stroke="#bdbdbd" stroke-width="0.6"/>
<circle cx="620.55" cy="118.26" r="1.05" fill="#b3b3b3"/>
<line x1="557.8" y1="115.6" x2="624.0" y2="115.6" stroke="#adadad" stroke-width="0.85"/>
<line x1="566.0" y1="116.5" x2="622.0" y2="116.5" stroke="#adadad" stroke-width="0.85"/>
<line x1="566.0" y1="117.4" x2="625.0" y2="117.4" stroke="#adadad" stroke-width="0.85"/>
<line x1="580.0" y1="118.3" x2="620.0" y2="118.3" stroke="#adadad" stroke-width="0.85"/>
<circle cx="624.0" cy="115.6" r="1.35" fill="#acacac"/>
<circle cx="625.5" cy="117.2" r="1.35" fill="#acacac"/>
<circle cx="622.0" cy="118.5" r="1.35" fill="#acacac"/>
<line x1="557.8" y1="124.1" x2="566.4" y2="124.1" stroke="#adadad" stroke-width="0.85"/>
<line x1="566.4" y1="115.55" x2="566.4" y2="128.35" stroke="#adadad" stroke-width="0.85"/>
<line x1="566.4" y1="120.4" x2="577.5" y2="120.4" stroke="#adadad" stroke-width="0.85"/>
<line x1="577.5" y1="118.55" x2="577.5" y2="122.25" stroke="#adadad" stroke-width="0.85"/>
<line x1="577.5" y1="119.0" x2="605.5" y2="119.0" stroke="#adadad" stroke-width="0.85"/>
<circle cx="605.5" cy="119.0" r="1.35" fill="#acacac"/>
<line x1="577.5" y1="121.8" x2="599.7" y2="121.8" stroke="#adadad" stroke-width="0.85"/>
<line x1="599.7" y1="120.35" x2="599.7" y2="123.45" stroke="#adadad" stroke-width="0.85"/>
<line x1="599.7" y1="120.8" x2="616.0" y2="120.8" stroke="#adadad" stroke-width="0.85"/>
<line x1="599.7" y1="123.2" x2="613.0" y2="123.2" stroke="#adadad" stroke-width="0.85"/>
<line x1="586.3" y1="122.5" x2="622.5" y2="122.5" stroke="#adadad" stroke-width="0.85"/>
<circle cx="622.5" cy="122.5" r="1.35" fill="#acacac"/>
<circle cx="614.0" cy="123.6" r="1.35" fill="#acacac"/>
<line x1="566.4" y1="127.9" x2="591.5" y2="127.9" stroke="#adadad" stroke-width="0.85"/>
<line x1="591.5" y1="125.14999999999999" x2="591.5" y2="130.75" stroke="#adadad" stroke-width="0.85"/>
<line x1="591.5" y1="125.6" x2="608.5" y2="125.6" stroke="#adadad" stroke-width="0.85"/>
<line x1="608.5" y1="124.35" x2="608.5" y2="127.95" stroke="#adadad" stroke-width="0.85"/>
<line x1="613.40" y1="125.30" x2="618.46" y2="125.30" stroke="#bdbdbd" stroke-width="0.6"/>
<circle cx="618.46" cy="125.30" r="1.05" fill="#b3b3b3"/>
<line x1="612.33" y1="127.08" x2="617.09" y2="127.08" stroke="#bdbdbd" stroke-width="0.6"/>
<circle cx="617.09" cy="127.08" r="1.05" fill="#b3b3b3"/>
<line x1="608.88" y1="129.05" x2="617.26" y2="129.05" stroke="#bdbdbd" stroke-width="0.6"/>
<circle cx="617.26" cy="129.05" r="1.05" fill="#b3b3b3"/>
<line x1="608.5" y1="124.8" x2="620.0" y2="124.8" stroke="#adadad" stroke-width="0.85"/>
<line x1="608.5" y1="126.2" x2="621.0" y2="126.2" stroke="#adadad" stroke-width="0.85"/>
<line x1="608.5" y1="127.5" x2="619.0" y2="127.5" stroke="#adadad" stroke-width="0.85"/>
<circle cx="620.5" cy="124.8" r="1.35" fill="#acacac"/>
<circle cx="621.0" cy="127.0" r="1.35" fill="#acacac"/>
<line x1="591.5" y1="128.8" x2="620.0" y2="128.8" stroke="#adadad" stroke-width="0.85"/>
<circle cx="620.0" cy="129.0" r="1.35" fill="#acacac"/>
<line x1="591.5" y1="130.3" x2="620.0" y2="130.3" stroke="#adadad" stroke-width="0.85"/>
<line x1="620.0" y1="131.0" x2="637.7" y2="131.0" stroke="#c6c6c6" stroke-width="0.85"/>
<circle cx="637.7" cy="131.0" r="1.35" fill="#acacac"/>
<line x1="500.9" y1="142.2" x2="511.9" y2="142.2" stroke="#2f3382" stroke-width="0.95"/>
<line x1="511.9" y1="135.45000000000002" x2="511.9" y2="148.85" stroke="#2f3382" stroke-width="0.95"/>
<line x1="511.9" y1="136.1" x2="527.6" y2="136.1" stroke="#2f3382" stroke-width="0.95"/>
<line x1="527.6" y1="133.85000000000002" x2="527.6" y2="138.04999999999998" stroke="#2f3382" stroke-width="0.95"/>
<line x1="527.6" y1="134.3" x2="593.3" y2="134.3" stroke="#2f3382" stroke-width="0.95"/>
<rect x="593.3" y="133.2" width="18.100000000000023" height="2.4000000000000057" fill="#5c5f9c" fill-opacity="0.85" stroke="#2f3382" stroke-width="0.9"/>
<line x1="611.4" y1="133.6" x2="621.9" y2="133.6" stroke="#2f3382" stroke-width="0.95"/>
<circle cx="621.9" cy="133.6" r="1.35" fill="#262a78"/>
<circle cx="610.5" cy="135.0" r="1.35" fill="#262a78"/>
<line x1="527.6" y1="137.6" x2="586.9" y2="137.6" stroke="#adadad" stroke-width="0.85"/>
<line x1="586.9" y1="135.95000000000002" x2="586.9" y2="139.64999999999998" stroke="#adadad" stroke-width="0.85"/>
<line x1="586.9" y1="136.4" x2="623.6" y2="136.4" stroke="#adadad" stroke-width="0.85"/>
<circle cx="623.6" cy="136.4" r="1.35" fill="#acacac"/>
<line x1="586.9" y1="139.2" x2="606.7" y2="139.2" stroke="#adadad" stroke-width="0.85"/>
<line x1="606.7" y1="137.85000000000002" x2="606.7" y2="141.75" stroke="#adadad" stroke-width="0.85"/>
<line x1="604.08" y1="137.80" x2="620.97" y2="137.80" stroke="#bdbdbd" stroke-width="0.6"/>
<circle cx="620.97" cy="137.80" r="1.05" fill="#b3b3b3"/>
<line x1="603.51" y1="139.83" x2="620.43" y2="139.83" stroke="#bdbdbd" stroke-width="0.6"/>
<circle cx="620.43" cy="139.83" r="1.05" fill="#b3b3b3"/>
<line x1="606.7" y1="138.3" x2="622.0" y2="138.3" stroke="#adadad" stroke-width="0.85"/>
<line x1="606.7" y1="140.0" x2="623.5" y2="140.0" stroke="#adadad" stroke-width="0.85"/>
<line x1="606.7" y1="141.3" x2="616.0" y2="141.3" stroke="#adadad" stroke-width="0.85"/>
<circle cx="622.0" cy="138.3" r="1.35" fill="#acacac"/>
<circle cx="623.5" cy="140.0" r="1.35" fill="#acacac"/>
<circle cx="616.0" cy="141.5" r="1.35" fill="#acacac"/>
<line x1="511.9" y1="148.1" x2="576.6" y2="148.1" stroke="#2f3382" stroke-width="0.95"/>
<line x1="576.6" y1="143.85000000000002" x2="576.6" y2="154.64999999999998" stroke="#2f3382" stroke-width="0.95"/>
<line x1="576.6" y1="144.3" x2="591.5" y2="144.3" stroke="#2f3382" stroke-width="0.95"/>
<line x1="591.5" y1="142.65" x2="591.5" y2="147.04999999999998" stroke="#2f3382" stroke-width="0.95"/>
<line x1="591.5" y1="143.1" x2="616.0" y2="143.1" stroke="#adadad" stroke-width="0.85"/>
<circle cx="616.0" cy="143.1" r="1.35" fill="#acacac"/>
<line x1="591.5" y1="146.6" x2="602.6" y2="146.6" stroke="#2f3382" stroke-width="0.95"/>
<line x1="602.6" y1="144.15" x2="602.6" y2="147.85" stroke="#2f3382" stroke-width="0.95"/>
<line x1="602.6" y1="144.6" x2="616.0" y2="144.6" stroke="#2f3382" stroke-width="0.95"/>
<line x1="602.6" y1="147.4" x2="622.5" y2="147.4" stroke="#2f3382" stroke-width="0.95"/>
<circle cx="622.5" cy="147.4" r="1.35" fill="#262a78"/>
<line x1="606.77" y1="148.80" x2="622.50" y2="148.80" stroke="#bdbdbd" stroke-width="0.6"/>
<circle cx="622.50" cy="148.80" r="1.05" fill="#b3b3b3"/>
<line x1="605.45" y1="151.10" x2="622.78" y2="151.10" stroke="#bdbdbd" stroke-width="0.6"/>
<circle cx="622.78" cy="151.10" r="1.05" fill="#b3b3b3"/>
<line x1="593.3" y1="149.0" x2="622.0" y2="149.0" stroke="#adadad" stroke-width="0.85"/>
<line x1="593.3" y1="150.5" x2="624.0" y2="150.5" stroke="#adadad" stroke-width="0.85"/>
<line x1="593.3" y1="152.0" x2="621.0" y2="152.0" stroke="#adadad" stroke-width="0.85"/>
<circle cx="622.0" cy="149.0" r="1.35" fill="#acacac"/>
<circle cx="624.0" cy="150.5" r="1.35" fill="#acacac"/>
<circle cx="621.0" cy="152.0" r="1.35" fill="#acacac"/>
<line x1="576.6" y1="154.2" x2="593.3" y2="154.2" stroke="#2f3382" stroke-width="0.95"/>
<line x1="593.3" y1="152.55" x2="593.3" y2="156.95" stroke="#2f3382" stroke-width="0.95"/>
<line x1="593.3" y1="153.0" x2="620.0" y2="153.0" stroke="#adadad" stroke-width="0.85"/>
<line x1="593.3" y1="156.5" x2="602.6" y2="156.5" stroke="#2f3382" stroke-width="0.95"/>
<line x1="602.6" y1="154.35000000000002" x2="602.6" y2="159.35" stroke="#2f3382" stroke-width="0.95"/>
<line x1="602.6" y1="154.8" x2="622.0" y2="154.8" stroke="#adadad" stroke-width="0.85"/>
<circle cx="624.0" cy="156.3" r="1.35" fill="#acacac"/>
<line x1="602.6" y1="158.9" x2="607.9" y2="158.9" stroke="#2f3382" stroke-width="0.95"/>
<line x1="607.9" y1="157.05" x2="607.9" y2="160.95" stroke="#2f3382" stroke-width="0.95"/>
<line x1="607.9" y1="157.8" x2="621.9" y2="157.8" stroke="#2f3382" stroke-width="0.95"/>
<circle cx="621.9" cy="158.3" r="1.35" fill="#262a78"/>
<line x1="607.9" y1="160.5" x2="620.0" y2="160.5" stroke="#adadad" stroke-width="0.85"/>
<line x1="610.38" y1="159.30" x2="617.62" y2="159.30" stroke="#bdbdbd" stroke-width="0.6"/>
<circle cx="617.62" cy="159.30" r="1.05" fill="#b3b3b3"/>
<line x1="606.71" y1="161.19" x2="617.10" y2="161.19" stroke="#bdbdbd" stroke-width="0.6"/>
<circle cx="617.10" cy="161.19" r="1.05" fill="#b3b3b3"/>
<circle cx="621.0" cy="162.0" r="1.35" fill="#acacac"/>
<line x1="501.3" y1="174.3" x2="505.2" y2="174.3" stroke="#2f3382" stroke-width="0.95"/>
<line x1="505.2" y1="164.95000000000002" x2="505.2" y2="183.25" stroke="#2f3382" stroke-width="0.95"/>
<line x1="505.2" y1="165.4" x2="519.3" y2="165.4" stroke="#2f3382" stroke-width="0.95"/>
<line x1="519.3" y1="162.15" x2="519.3" y2="168.64999999999998" stroke="#2f3382" stroke-width="0.95"/>
<line x1="519.3" y1="162.6" x2="533.0" y2="162.6" stroke="#2f3382" stroke-width="0.95"/>
<circle cx="533.0" cy="162.6" r="1.35" fill="#262a78"/>
<line x1="519.3" y1="165.3" x2="598.5" y2="165.3" stroke="#c6c6c6" stroke-width="0.85"/>
<line x1="598.5" y1="163.95000000000002" x2="598.5" y2="168.04999999999998" stroke="#adadad" stroke-width="0.85"/>
<line x1="598.5" y1="164.2" x2="621.9" y2="164.2" stroke="#adadad" stroke-width="0.85"/>
<circle cx="621.9" cy="164.2" r="1.35" fill="#acacac"/>
<line x1="598.5" y1="167.2" x2="623.6" y2="167.2" stroke="#adadad" stroke-width="0.85"/>
<circle cx="623.6" cy="166.8" r="1.35" fill="#acacac"/>
<line x1="612.6" y1="165.05" x2="612.6" y2="168.85" stroke="#adadad" stroke-width="0.85"/>
<line x1="612.6" y1="166.0" x2="614.0" y2="166.0" stroke="#adadad" stroke-width="0.85"/>
<line x1="612.6" y1="168.4" x2="620.0" y2="168.4" stroke="#adadad" stroke-width="0.85"/>
<circle cx="614.0" cy="166.0" r="1.35" fill="#acacac"/>
<circle cx="620.0" cy="168.4" r="1.35" fill="#acacac"/>
<line x1="519.3" y1="168.2" x2="522.0" y2="171.5" stroke="#2f3382" stroke-width="0.95"/>
<line x1="520.5" y1="168.7" x2="532.8" y2="168.7" stroke="#adadad" stroke-width="0.85"/>
<circle cx="532.8" cy="168.7" r="1.35" fill="#acacac"/>
<line x1="522.0" y1="170.8" x2="525.7" y2="170.8" stroke="#2f3382" stroke-width="0.95"/>
<line x1="525.7" y1="170.15" x2="525.7" y2="173.54999999999998" stroke="#2f3382" stroke-width="0.95"/>
<line x1="525.7" y1="170.6" x2="536.4" y2="170.6" stroke="#2f3382" stroke-width="0.95"/>
<circle cx="536.4" cy="170.6" r="1.35" fill="#262a78"/>
<line x1="525.7" y1="173.1" x2="577.5" y2="173.1" stroke="#c6c6c6" stroke-width="0.85"/>
<line x1="577.5" y1="171.25" x2="577.5" y2="174.45" stroke="#adadad" stroke-width="0.85"/>
<line x1="577.5" y1="171.7" x2="622.5" y2="171.7" stroke="#adadad" stroke-width="0.85"/>
<circle cx="622.5" cy="171.7" r="1.35" fill="#acacac"/>
<line x1="577.5" y1="174.0" x2="587.4" y2="174.0" stroke="#adadad" stroke-width="0.85"/>
<line x1="587.4" y1="172.95000000000002" x2="587.4" y2="176.25" stroke="#adadad" stroke-width="0.85"/>
<line x1="587.4" y1="173.4" x2="613.0" y2="173.4" stroke="#adadad" stroke-width="0.85"/>
<line x1="587.4" y1="174.6" x2="615.0" y2="174.6" stroke="#adadad" stroke-width="0.85"/>
<line x1="587.4" y1="175.8" x2="610.2" y2="175.8" stroke="#adadad" stroke-width="0.85"/>
<circle cx="613.0" cy="173.4" r="1.35" fill="#acacac"/>
<circle cx="615.0" cy="175.5" r="1.35" fill="#acacac"/>
<circle cx="610.2" cy="177.2" r="1.35" fill="#acacac"/>
<line x1="505.2" y1="182.8" x2="546.9" y2="182.8" stroke="#2f3382" stroke-width="0.95"/>
<line x1="546.9" y1="177.65" x2="546.9" y2="188.75" stroke="#2f3382" stroke-width="0.95"/>
<line x1="546.9" y1="178.1" x2="582.8" y2="178.1" stroke="#2f3382" stroke-width="0.95"/>
<circle cx="582.8" cy="178.1" r="1.35" fill="#262a78"/>
<line x1="546.9" y1="188.3" x2="563.5" y2="188.3" stroke="#2f3382" stroke-width="0.95"/>
<line x1="563.5" y1="179.45000000000002" x2="563.5" y2="196.64999999999998" stroke="#2f3382" stroke-width="0.95"/>
<line x1="563.5" y1="179.9" x2="630.0" y2="179.9" stroke="#c6c6c6" stroke-width="0.85"/>
<circle cx="630.0" cy="179.9" r="1.35" fill="#acacac"/>
<line x1="563.5" y1="196.2" x2="568.4" y2="196.2" stroke="#2f3382" stroke-width="0.95"/>
<line x1="568.4" y1="187.55" x2="568.4" y2="201.45" stroke="#2f3382" stroke-width="0.95"/>
<line x1="568.4" y1="188.0" x2="584.5" y2="188.0" stroke="#2f3382" stroke-width="0.95"/>
<line x1="584.5" y1="184.05" x2="584.5" y2="192.85" stroke="#2f3382" stroke-width="0.95"/>
<line x1="584.5" y1="184.5" x2="610.2" y2="184.5" stroke="#adadad" stroke-width="0.85"/>
<line x1="610.2" y1="182.35000000000002" x2="610.2" y2="190.45" stroke="#adadad" stroke-width="0.85"/>
<line x1="608.91" y1="181.30" x2="621.21" y2="181.30" stroke="#bdbdbd" stroke-width="0.6"/>
<circle cx="621.21" cy="181.30" r="1.05" fill="#b3b3b3"/>
<line x1="612.01" y1="183.39" x2="624.80" y2="183.39" stroke="#bdbdbd" stroke-width="0.6"/>
<circle cx="624.80" cy="183.39" r="1.05" fill="#b3b3b3"/>
<line x1="613.25" y1="185.75" x2="622.13" y2="185.75" stroke="#bdbdbd" stroke-width="0.6"/>
<circle cx="622.13" cy="185.75" r="1.05" fill="#b3b3b3"/>
<line x1="611.57" y1="187.67" x2="621.52" y2="187.67" stroke="#bdbdbd" stroke-width="0.6"/>
<circle cx="621.52" cy="187.67" r="1.05" fill="#b3b3b3"/>
<line x1="613.04" y1="189.85" x2="622.72" y2="189.85" stroke="#bdbdbd" stroke-width="0.6"/>
<circle cx="622.72" cy="189.85" r="1.05" fill="#b3b3b3"/>
<line x1="611.98" y1="192.39" x2="622.63" y2="192.39" stroke="#bdbdbd" stroke-width="0.6"/>
<circle cx="622.63" cy="192.39" r="1.05" fill="#b3b3b3"/>
<line x1="610.2" y1="182.8" x2="628.9" y2="182.8" stroke="#adadad" stroke-width="0.85"/>
<circle cx="628.9" cy="182.8" r="1.35" fill="#acacac"/>
<line x1="610.2" y1="185.5" x2="635.9" y2="185.5" stroke="#adadad" stroke-width="0.85"/>
<circle cx="635.9" cy="185.5" r="1.35" fill="#acacac"/>
<line x1="610.2" y1="189.2" x2="635.9" y2="189.2" stroke="#adadad" stroke-width="0.85"/>
<circle cx="635.9" cy="189.2" r="1.35" fill="#acacac"/>
<line x1="610.2" y1="187.0" x2="621.0" y2="187.0" stroke="#adadad" stroke-width="0.85"/>
<circle cx="621.0" cy="187.0" r="1.35" fill="#acacac"/>
<line x1="600.0" y1="192.2" x2="627.6" y2="192.2" stroke="#adadad" stroke-width="0.85"/>
<circle cx="627.6" cy="192.2" r="1.35" fill="#acacac"/>
<line x1="584.5" y1="192.4" x2="593.4" y2="192.4" stroke="#2f3382" stroke-width="0.95"/>
<line x1="593.4" y1="189.85000000000002" x2="593.4" y2="193.85" stroke="#2f3382" stroke-width="0.95"/>
<line x1="593.4" y1="190.3" x2="612.0" y2="190.3" stroke="#adadad" stroke-width="0.85"/>
<line x1="593.4" y1="193.4" x2="604.6" y2="193.4" stroke="#2f3382" stroke-width="0.95"/>
<line x1="604.6" y1="192.05" x2="604.6" y2="196.45" stroke="#2f3382" stroke-width="0.95"/>
<line x1="604.6" y1="193.2" x2="614.3" y2="193.2" stroke="#2f3382" stroke-width="0.95"/>
<line x1="604.6" y1="196.0" x2="620.0" y2="196.0" stroke="#adadad" stroke-width="0.85"/>
<line x1="605.88" y1="194.80" x2="618.49" y2="194.80" stroke="#bdbdbd" stroke-width="0.6"/>
<circle cx="618.49" cy="194.80" r="1.05" fill="#b3b3b3"/>
<line x1="603.71" y1="197.39" x2="617.89" y2="197.39" stroke="#bdbdbd" stroke-width="0.6"/>
<circle cx="617.89" cy="197.39" r="1.05" fill="#b3b3b3"/>
<line x1="568.4" y1="195.15" x2="568.4" y2="201.14999999999998" stroke="#2f3382" stroke-width="0.95"/>
<line x1="568.4" y1="200.7" x2="569.5" y2="200.7" stroke="#2f3382" stroke-width="0.95"/>
<line x1="569.5" y1="199.85000000000002" x2="569.5" y2="204.75" stroke="#2f3382" stroke-width="0.95"/>
<line x1="571.2" y1="203.55" x2="571.2" y2="212.45" stroke="#2f3382" stroke-width="0.95"/>
<line x1="573.3" y1="205.55" x2="573.3" y2="223.75" stroke="#2f3382" stroke-width="1.2"/>
<line x1="574.7" y1="219.15" x2="574.7" y2="229.95" stroke="#2f3382" stroke-width="0.95"/>
<line x1="603.14" y1="199.80" x2="620.66" y2="199.80" stroke="#bdbdbd" stroke-width="0.6"/>
<circle cx="620.66" cy="199.80" r="1.05" fill="#b3b3b3"/>
<line x1="603.70" y1="201.86" x2="623.16" y2="201.86" stroke="#bdbdbd" stroke-width="0.6"/>
<circle cx="623.16" cy="201.86" r="1.05" fill="#b3b3b3"/>
<line x1="603.78" y1="203.52" x2="620.16" y2="203.52" stroke="#bdbdbd" stroke-width="0.6"/>
<circle cx="620.16" cy="203.52" r="1.05" fill="#b3b3b3"/>
<line x1="608.23" y1="205.37" x2="622.05" y2="205.37" stroke="#bdbdbd" stroke-width="0.6"/>
<circle cx="622.05" cy="205.37" r="1.05" fill="#b3b3b3"/>
<line x1="606.30" y1="207.05" x2="621.75" y2="207.05" stroke="#bdbdbd" stroke-width="0.6"/>
<circle cx="621.75" cy="207.05" r="1.05" fill="#b3b3b3"/>
<line x1="608.18" y1="209.53" x2="619.90" y2="209.53" stroke="#bdbdbd" stroke-width="0.6"/>
<circle cx="619.90" cy="209.53" r="1.05" fill="#b3b3b3"/>
<line x1="569.5" y1="200.3" x2="603.0" y2="200.3" stroke="#adadad" stroke-width="0.85"/>
<line x1="603.0" y1="199.05" x2="603.0" y2="202.45" stroke="#adadad" stroke-width="0.85"/>
<line x1="603.0" y1="200.8" x2="629.4" y2="200.8" stroke="#adadad" stroke-width="0.85"/>
<circle cx="629.4" cy="200.8" r="1.35" fill="#acacac"/>
<line x1="603.0" y1="199.0" x2="622.0" y2="199.0" stroke="#adadad" stroke-width="0.85"/>
<circle cx="622.0" cy="199.0" r="1.35" fill="#acacac"/>
<line x1="569.5" y1="201.8" x2="606.0" y2="201.8" stroke="#c6c6c6" stroke-width="0.85"/>
<line x1="571.2" y1="204.7" x2="602.0" y2="204.7" stroke="#adadad" stroke-width="0.85"/>
<line x1="572.0" y1="206.0" x2="605.0" y2="206.0" stroke="#c6c6c6" stroke-width="0.85"/>
<line x1="573.3" y1="207.6" x2="615.0" y2="207.6" stroke="#c6c6c6" stroke-width="0.85"/>
<circle cx="615.0" cy="207.6" r="1.35" fill="#acacac"/>
<circle cx="621.0" cy="203.0" r="1.35" fill="#acacac"/>
<circle cx="624.0" cy="205.0" r="1.35" fill="#acacac"/>
<circle cx="622.0" cy="210.5" r="1.35" fill="#acacac"/>
<line x1="573.3" y1="212.0" x2="579.3" y2="212.0" stroke="#2f3382" stroke-width="0.95"/>
<line x1="579.3" y1="209.35000000000002" x2="579.3" y2="216.75" stroke="#2f3382" stroke-width="0.95"/>
<line x1="579.3" y1="209.8" x2="615.6" y2="209.8" stroke="#adadad" stroke-width="0.85"/>
<circle cx="615.6" cy="209.8" r="1.35" fill="#acacac"/>
<line x1="579.3" y1="216.3" x2="590.7" y2="216.3" stroke="#2f3382" stroke-width="0.95"/>
<line x1="590.7" y1="212.05" x2="590.7" y2="218.95" stroke="#2f3382" stroke-width="0.95"/>
<line x1="590.7" y1="212.5" x2="606.7" y2="212.5" stroke="#2f3382" stroke-width="0.95"/>
<line x1="606.7" y1="212.5" x2="622.0" y2="212.5" stroke="#adadad" stroke-width="0.85"/>
<circle cx="623.0" cy="212.5" r="1.35" fill="#acacac"/>
<line x1="595.0" y1="214.3" x2="620.0" y2="214.3" stroke="#adadad" stroke-width="0.85"/>
<line x1="607.15" y1="215.30" x2="619.92" y2="215.30" stroke="#bdbdbd" stroke-width="0.6"/>
<circle cx="619.92" cy="215.30" r="1.05" fill="#b3b3b3"/>
<line x1="605.91" y1="217.78" x2="617.21" y2="217.78" stroke="#bdbdbd" stroke-width="0.6"/>
<circle cx="617.21" cy="217.78" r="1.05" fill="#b3b3b3"/>
<line x1="606.40" y1="219.56" x2="620.84" y2="219.56" stroke="#bdbdbd" stroke-width="0.6"/>
<circle cx="620.84" cy="219.56" r="1.05" fill="#b3b3b3"/>
<line x1="606.58" y1="221.65" x2="619.05" y2="221.65" stroke="#bdbdbd" stroke-width="0.6"/>
<circle cx="619.05" cy="221.65" r="1.05" fill="#b3b3b3"/>
<line x1="607.22" y1="223.25" x2="619.91" y2="223.25" stroke="#bdbdbd" stroke-width="0.6"/>
<circle cx="619.91" cy="223.25" r="1.05" fill="#b3b3b3"/>
<line x1="590.7" y1="218.5" x2="605.0" y2="218.5" stroke="#adadad" stroke-width="0.85"/>
<line x1="605.0" y1="216.55" x2="605.0" y2="220.95" stroke="#adadad" stroke-width="0.85"/>
<line x1="605.0" y1="217.0" x2="621.0" y2="217.0" stroke="#adadad" stroke-width="0.85"/>
<line x1="605.0" y1="219.5" x2="622.0" y2="219.5" stroke="#adadad" stroke-width="0.85"/>
<line x1="605.0" y1="220.8" x2="618.0" y2="220.8" stroke="#adadad" stroke-width="0.85"/>
<line x1="605.0" y1="222.5" x2="629.5" y2="222.5" stroke="#adadad" stroke-width="0.85"/>
<circle cx="629.5" cy="222.5" r="1.35" fill="#acacac"/>
<circle cx="621.0" cy="217.0" r="1.35" fill="#acacac"/>
<circle cx="622.0" cy="219.5" r="1.35" fill="#acacac"/>
<line x1="574.7" y1="224.0" x2="605.0" y2="224.0" stroke="#adadad" stroke-width="0.85"/>
<line x1="574.7" y1="229.5" x2="577.2" y2="229.5" stroke="#2f3382" stroke-width="0.95"/>
<line x1="577.2" y1="225.65" x2="577.2" y2="232.95" stroke="#2f3382" stroke-width="0.95"/>
<line x1="577.2" y1="226.1" x2="622.6" y2="226.1" stroke="#adadad" stroke-width="0.85"/>
<circle cx="622.6" cy="226.1" r="1.35" fill="#acacac"/>
<line x1="577.2" y1="232.5" x2="581.7" y2="232.5" stroke="#2f3382" stroke-width="0.95"/>
<line x1="581.7" y1="229.15" x2="581.7" y2="235.85" stroke="#2f3382" stroke-width="0.95"/>
<line x1="581.7" y1="229.6" x2="621.3" y2="229.6" stroke="#2f3382" stroke-width="0.95"/>
<circle cx="621.3" cy="229.6" r="1.35" fill="#262a78"/>
<line x1="587.14" y1="231.00" x2="615.23" y2="231.00" stroke="#bdbdbd" stroke-width="0.6"/>
<circle cx="615.23" cy="231.00" r="1.05" fill="#b3b3b3"/>
<line x1="583.0" y1="231.3" x2="620.0" y2="231.3" stroke="#adadad" stroke-width="0.85"/>
<line x1="588.0" y1="232.3" x2="618.0" y2="232.3" stroke="#adadad" stroke-width="0.85"/>
<line x1="581.7" y1="235.4" x2="583.2" y2="235.4" stroke="#2f3382" stroke-width="0.95"/>
<line x1="583.2" y1="233.55" x2="583.2" y2="243.35" stroke="#2f3382" stroke-width="0.95"/>
<line x1="583.2" y1="234.3" x2="588.0" y2="234.3" stroke="#2f3382" stroke-width="0.95"/>
<line x1="588.0" y1="232.85000000000002" x2="588.0" y2="236.04999999999998" stroke="#2f3382" stroke-width="0.95"/>
<line x1="588.0" y1="233.3" x2="634.7" y2="233.3" stroke="#2f3382" stroke-width="0.95"/>
<circle cx="634.7" cy="233.3" r="1.35" fill="#262a78"/>
<line x1="588.0" y1="235.6" x2="612.6" y2="235.6" stroke="#2f3382" stroke-width="0.95"/>
<line x1="612.6" y1="235.15" x2="612.6" y2="237.45" stroke="#2f3382" stroke-width="0.95"/>
<line x1="612.6" y1="236.2" x2="639.4" y2="236.2" stroke="#adadad" stroke-width="0.85"/>
<circle cx="639.4" cy="236.2" r="1.35" fill="#acacac"/>
<line x1="612.6" y1="237.0" x2="619.6" y2="237.0" stroke="#2f3382" stroke-width="0.95"/>
<line x1="619.6" y1="236.55" x2="619.6" y2="238.95" stroke="#2f3382" stroke-width="0.95"/>
<line x1="619.6" y1="238.5" x2="640.0" y2="238.5" stroke="#2f3382" stroke-width="0.95"/>
<circle cx="640.0" cy="238.5" r="1.35" fill="#262a78"/>
<line x1="583.2" y1="242.9" x2="588.0" y2="242.9" stroke="#2f3382" stroke-width="0.95"/>
<line x1="588.0" y1="240.15" x2="588.0" y2="244.54999999999998" stroke="#2f3382" stroke-width="0.95"/>
<line x1="588.0" y1="241.2" x2="621.3" y2="241.2" stroke="#adadad" stroke-width="0.85"/>
<line x1="588.0" y1="240.6" x2="600.0" y2="240.6" stroke="#adadad" stroke-width="0.85"/>
<line x1="604.06" y1="240.30" x2="617.91" y2="240.30" stroke="#bdbdbd" stroke-width="0.6"/>
<circle cx="617.91" cy="240.30" r="1.05" fill="#b3b3b3"/>
<line x1="604.68" y1="241.95" x2="616.50" y2="241.95" stroke="#bdbdbd" stroke-width="0.6"/>
<circle cx="616.50" cy="241.95" r="1.05" fill="#b3b3b3"/>
<line x1="588.0" y1="244.1" x2="592.1" y2="244.1" stroke="#2f3382" stroke-width="0.95"/>
<line x1="592.1" y1="243.65" x2="592.1" y2="246.85" stroke="#2f3382" stroke-width="0.95"/>
<line x1="592.1" y1="246.4" x2="619.3" y2="246.4" stroke="#2f3382" stroke-width="0.95"/>
<line x1="619.3" y1="244.55" x2="619.3" y2="248.75" stroke="#2f3382" stroke-width="0.95"/>
<rect x="619.3" y="245.5" width="15.700000000000045" height="2.8000000000000114" fill="#5c5f9c" fill-opacity="0.6" stroke="#2f3382" stroke-width="0.9"/>
<circle cx="635.0" cy="246.3" r="1.35" fill="#262a78"/>
<circle cx="633.0" cy="248.0" r="1.35" fill="#262a78"/>
<line x1="619.3" y1="244.0" x2="636.4" y2="244.0" stroke="#adadad" stroke-width="0.85"/>
<circle cx="636.4" cy="244.0" r="1.35" fill="#acacac"/>
<line x1="596.0" y1="243.5" x2="612.0" y2="243.5" stroke="#adadad" stroke-width="0.85"/>
</svg>
</body></html>
